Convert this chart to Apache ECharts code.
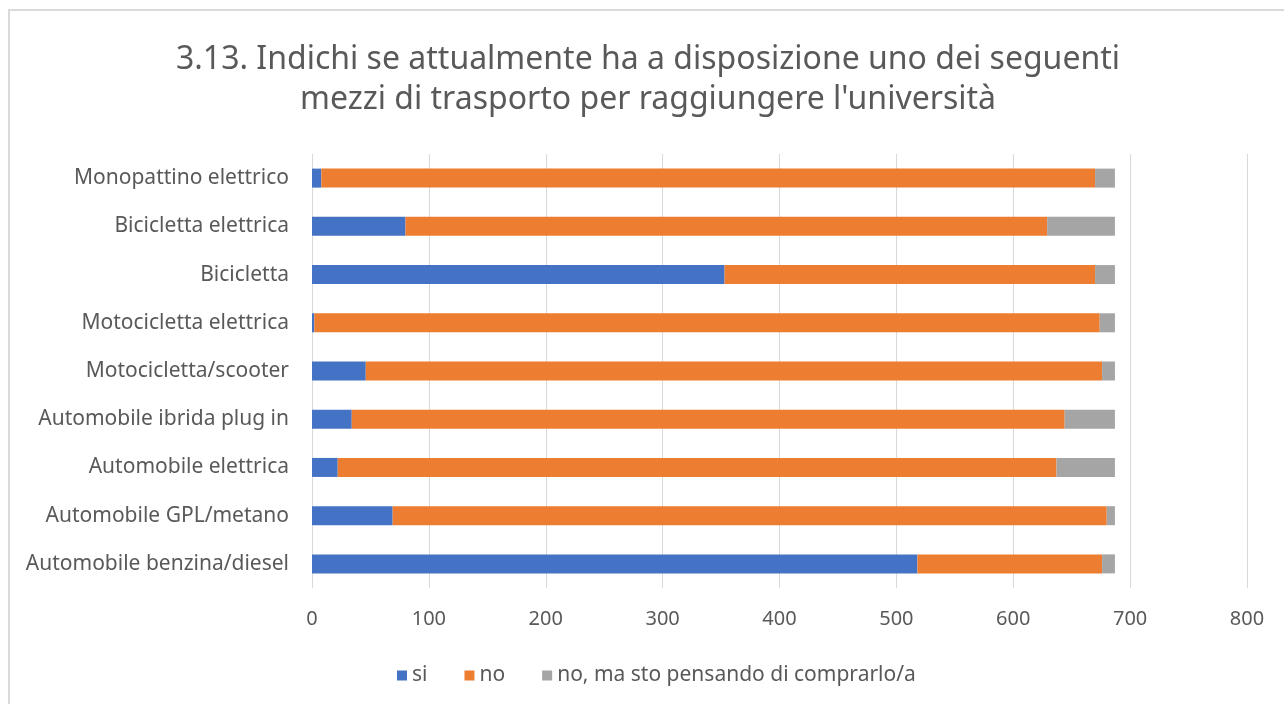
<!DOCTYPE html>
<html>
<head>
<meta charset="utf-8">
<script src="https://cdn.jsdelivr.net/npm/echarts@6/dist/echarts.min.js"></script>
<style>
html,body{margin:0;padding:0;background:#fff;overflow:hidden;}
#frame{position:absolute;left:8px;top:9px;width:1300px;height:720px;border:2px solid #d9d9d9;box-sizing:border-box;}
#chart{position:absolute;left:0;top:0;width:1284px;height:704px;}
</style>
</head>
<body>
<div id="frame"></div>
<div id="chart"></div>
<script>
const categories = [
  "Automobile benzina/diesel",
  "Automobile GPL/metano",
  "Automobile elettrica",
  "Automobile ibrida plug in",
  "Motocicletta/scooter",
  "Motocicletta elettrica",
  "Bicicletta",
  "Bicicletta elettrica",
  "Monopattino elettrico"
];
const si    = [518, 69, 22, 34, 46, 2, 353, 80, 8];
const no    = [158, 611, 615, 610, 630, 672, 317, 549, 662];
const forse = [11, 7, 50, 43, 11, 13, 17, 58, 17];
const xTicks = [0, 100, 200, 300, 400, 500, 600, 700, 800];
const seriesNames = ["si", "no", "no, ma sto pensando di comprarlo/a"];
const colors = ["#4472c4", "#ed7d31", "#a5a5a5"];

const FONT = "'Noto Sans', sans-serif";
const chart = echarts.init(document.getElementById('chart'), null, {renderer: 'canvas'});
const values = [si, no, forse];
chart.setOption({
  animation: false,
  backgroundColor: 'transparent',
  title: {
    text: "3.13. Indichi se attualmente ha a disposizione uno dei seguenti\nmezzi di trasporto per raggiungere l'università",
    left: 643, top: 35, textAlign: 'center',
    textStyle: {fontFamily: FONT, fontSize: 32, fontWeight: 'normal', color: '#595959', lineHeight: 40}
  },
  legend: {
    data: seriesNames,
    left: 392, top: 660, padding: 5,
    itemWidth: 10, itemHeight: 10, itemGap: 37,
    icon: 'rect',
    textStyle: {fontFamily: FONT, fontSize: 21, color: '#595959'}
  },
  grid: {left: 312, right: 1284 - 1247, top: 154, bottom: 704 - 588, containLabel: false},
  xAxis: {
    type: 'value', min: xTicks[0], max: xTicks[xTicks.length - 1], interval: 100,
    axisLine: {show: false}, axisTick: {show: false},
    splitLine: {lineStyle: {color: '#d9d9d9', width: 1}},
    axisLabel: {fontFamily: FONT, fontSize: 20, color: '#595959', margin: 21}
  },
  yAxis: {
    type: 'category', data: categories,
    axisLine: {show: false}, axisTick: {show: false},
    axisLabel: {fontFamily: FONT, fontSize: 21, color: '#595959', margin: 23}
  },
  series: seriesNames.map((n, i) => ({
    name: n, type: 'bar', stack: 'total', data: values[i],
    barWidth: 19,
    itemStyle: {color: colors[i]}
  }))
});
</script>
</body>
</html>
